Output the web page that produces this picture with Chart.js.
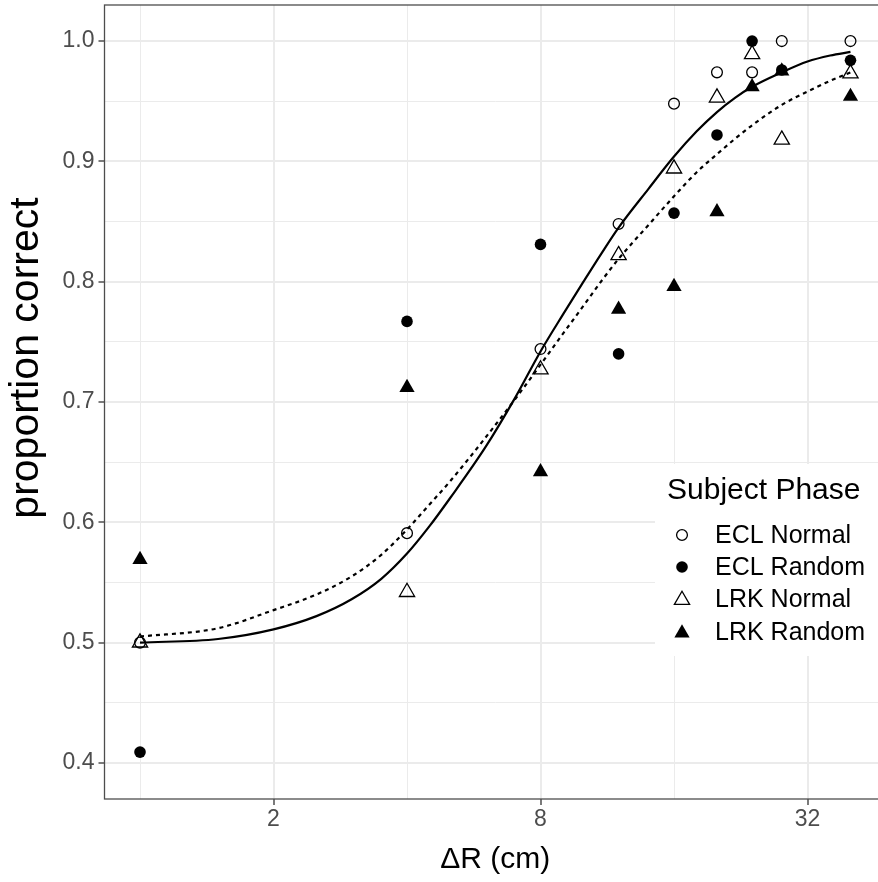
<!DOCTYPE html>
<html>
<head>
<meta charset="utf-8">
<script src="https://cdn.jsdelivr.net/npm/chart.js@4.4.0/dist/chart.umd.min.js"></script>
<style>
html,body{margin:0;padding:0;background:#fff;overflow:hidden;width:878px;height:882px}
canvas{display:block}
</style>
</head>
<body>
<canvas id="c" width="900" height="882"></canvas>
<script>
// ---------- data ----------
const seriesNames = ['ECL Normal', 'ECL Random', 'LRK Normal', 'LRK Random'];
const eclNormalX = [1, 4, 8, 12, 16, 20, 24, 28, 40];
const eclNormalY = [0.500, 0.591, 0.744, 0.848, 0.948, 0.974, 0.974, 1.000, 1.000];
const eclRandomX = [1, 4, 8, 12, 16, 20, 24, 28, 40];
const eclRandomY = [0.409, 0.767, 0.831, 0.740, 0.857, 0.922, 1.000, 0.976, 0.984];
const lrkNormalX = [1, 4, 8, 12, 16, 20, 24, 28, 40];
const lrkNormalY = [0.500, 0.542, 0.727, 0.822, 0.894, 0.953, 0.989, 0.918, 0.973];
const lrkRandomX = [1, 4, 8, 12, 16, 20, 24, 28, 40];
const lrkRandomY = [0.569, 0.712, 0.642, 0.777, 0.796, 0.858, 0.962, 0.975, 0.954];

// fitted curves, values at these x positions
const curveX     = [1, 1.5, 2, 2.5, 3, 3.5, 4, 4.5, 5, 6, 7, 8, 9, 10, 11, 12, 14, 16, 18, 20, 22, 24, 28, 32, 36, 40];
const solidFitY  = [0.500, 0.503, 0.511, 0.522, 0.536, 0.553, 0.574, 0.597, 0.620, 0.662, 0.703, 0.742, 0.773, 0.800, 0.824, 0.845, 0.877, 0.904, 0.925, 0.941, 0.953, 0.962, 0.974, 0.983, 0.988, 0.991];
const dottedFitY = [0.505, 0.512, 0.527, 0.540, 0.555, 0.573, 0.594, 0.615, 0.634, 0.670, 0.702, 0.731, 0.757, 0.780, 0.801, 0.819, 0.847, 0.871, 0.891, 0.906, 0.919, 0.930, 0.947, 0.958, 0.967, 0.974];

// ticks
const xTickValues = [1, 2, 4, 8, 16, 32];
const xTickLabels = ['', '2', '', '8', '', '32'];
const yTickValues = [0.40, 0.45, 0.50, 0.55, 0.60, 0.65, 0.70, 0.75, 0.80, 0.85, 0.90, 0.95, 1.00];
const yTickLabels = ['0.4', '', '0.5', '', '0.6', '', '0.7', '', '0.8', '', '0.9', '', '1.0'];

const xTitle = 'ΔR (cm)';
const yTitle = 'proportion correct';
const legendTitle = 'Subject Phase';

// ---------- styling ----------
const FONT = '"Liberation Sans", Arial, Helvetica, sans-serif';
const markerStyles = [
  {shape: 'circle',   filled: false, r: 5.4},
  {shape: 'circle',   filled: true,  r: 5.8},
  {shape: 'triangle', filled: false, r: 8.8},
  {shape: 'triangle', filled: true,  r: 8.8}
];

function pts(xs, ys) { return xs.map((x, i) => ({x: x, y: ys[i]})); }

const seriesX = [eclNormalX, eclRandomX, lrkNormalX, lrkRandomX];
const seriesY = [eclNormalY, eclRandomY, lrkNormalY, lrkRandomY];

const datasets = seriesNames.map((name, i) => {
  const m = markerStyles[i];
  return {
    label: name,
    data: pts(seriesX[i], seriesY[i]),
    showLine: false,
    pointStyle: m.shape,
    pointRadius: m.r,
    pointHoverRadius: m.r,
    pointBackgroundColor: m.filled ? '#000' : 'rgba(0,0,0,0)',
    pointBorderColor: '#000',
    pointBorderWidth: m.filled ? 0 : 1.3,
    order: 2
  };
});

datasets.push({
  label: 'fit solid',
  data: pts(curveX, solidFitY),
  showLine: true,
  borderColor: '#000',
  borderWidth: 2.2,
  pointRadius: 0,
  cubicInterpolationMode: 'monotone',
  fill: false,
  order: 1
});
datasets.push({
  label: 'fit dotted',
  data: pts(curveX, dottedFitY),
  showLine: true,
  borderColor: '#000',
  borderWidth: 2.2,
  borderDash: [4, 4],
  pointRadius: 0,
  cubicInterpolationMode: 'monotone',
  fill: false,
  order: 1
});

function drawMarker(ctx, m, x, y) {
  ctx.beginPath();
  if (m.shape === 'circle') {
    ctx.arc(x, y, m.r, 0, Math.PI * 2);
  } else {
    const r = m.r;
    ctx.moveTo(x, y - r);
    ctx.lineTo(x + Math.sin(2 * Math.PI / 3) * r, y + r / 2);
    ctx.lineTo(x - Math.sin(2 * Math.PI / 3) * r, y + r / 2);
    ctx.closePath();
  }
  if (m.filled) { ctx.fillStyle = '#000'; ctx.fill(); }
  else { ctx.strokeStyle = '#000'; ctx.lineWidth = 1.3; ctx.stroke(); }
}

const ggPlugin = {
  id: 'ggFrameLegend',
  afterDatasetsDraw(chart) {
    const ctx = chart.ctx;
    const a = chart.chartArea;
    ctx.save();
    // panel border
    ctx.strokeStyle = '#4d4d4d';
    ctx.lineWidth = 1.3;
    ctx.strokeRect(a.left, a.top, a.right - a.left, a.bottom - a.top);
    // legend box
    const lx = 655, ly = 464, lw = 260, lh = 192;
    ctx.fillStyle = '#fff';
    ctx.fillRect(lx, ly, lw, lh);
    ctx.fillStyle = '#000';
    ctx.font = '30px ' + FONT;
    ctx.textBaseline = 'alphabetic';
    ctx.textAlign = 'left';
    ctx.fillText(legendTitle, 667, 499);
    ctx.font = '25px ' + FONT;
    ctx.textBaseline = 'middle';
    const rowY = [535, 567, 599, 632];
    seriesNames.forEach((name, i) => {
      const m = markerStyles[i];
      drawMarker(ctx, m, 682, rowY[i] + (m.shape === 'triangle' ? 1 : 0));
      ctx.fillStyle = '#000';
      ctx.fillText(name, 715, rowY[i] + 1);
    });
    ctx.restore();
  },
  afterDraw(chart) {
    // y-axis title (placed as in the reference, slightly above the panel centre)
    const ctx = chart.ctx;
    ctx.save();
    ctx.translate(27, 358);
    ctx.rotate(-Math.PI / 2);
    ctx.font = '41px ' + FONT;
    ctx.fillStyle = '#000';
    ctx.textAlign = 'center';
    ctx.textBaseline = 'middle';
    ctx.fillText(yTitle, 0, 0);
    ctx.restore();
  }
};

function isMajorX(i) { return xTickLabels[i] !== ''; }
function isMajorY(i) { return yTickLabels[i] !== ''; }

new Chart(document.getElementById('c').getContext('2d'), {
  type: 'scatter',
  data: {datasets: datasets},
  options: {
    responsive: false,
    animation: false,
    devicePixelRatio: 1,
    events: [],
    layout: {autoPadding: false, padding: {top: 5, right: 14, left: 0, bottom: 0}},
    plugins: {legend: {display: false}, tooltip: {enabled: false}},
    scales: {
      x: {
        type: 'logarithmic',
        min: Math.pow(2, -0.266),
        max: Math.pow(2, 5.588),
        bounds: 'data',
        afterBuildTicks: s => { s.ticks = xTickValues.map(v => ({value: v})); },
        afterFit: s => { s.height = 83; s.paddingLeft = 0; s.paddingRight = 0; },
        ticks: {
          autoSkip: false, maxRotation: 0, minRotation: 0, padding: 1,
          color: '#4D4D4D', font: {family: FONT, size: 23},
          callback: (v, i) => xTickLabels[i]
        },
        grid: {
          color: '#EBEBEB',
          lineWidth: c => (c.index !== undefined && isMajorX(c.index)) ? 2 : 1,
          tickLength: 6,
          tickColor: c => (c.index !== undefined && isMajorX(c.index)) ? '#333333' : 'rgba(0,0,0,0)',
          tickWidth: 1.3
        },
        border: {display: false},
        title: {
          display: true, text: xTitle, color: '#000',
          font: {family: FONT, size: 30}, padding: {top: 0, bottom: 4}
        }
      },
      y: {
        type: 'linear',
        min: 0.37,
        max: 1.03,
        bounds: 'data',
        afterBuildTicks: s => { s.ticks = yTickValues.map(v => ({value: v})); },
        afterFit: s => { s.width = 104.5; s.paddingTop = 0; s.paddingBottom = 0; },
        ticks: {
          autoSkip: false, padding: 4,
          color: '#4D4D4D', font: {family: FONT, size: 23},
          callback: (v, i) => yTickLabels[i]
        },
        grid: {
          color: '#EBEBEB',
          lineWidth: c => (c.index !== undefined && isMajorY(c.index)) ? 2 : 1,
          tickLength: 6,
          tickColor: c => (c.index !== undefined && isMajorY(c.index)) ? '#333333' : 'rgba(0,0,0,0)',
          tickWidth: 1.3
        },
        border: {display: false},
        title: {display: false}
      }
    }
  },
  plugins: [ggPlugin]
});
</script>
</body>
</html>
